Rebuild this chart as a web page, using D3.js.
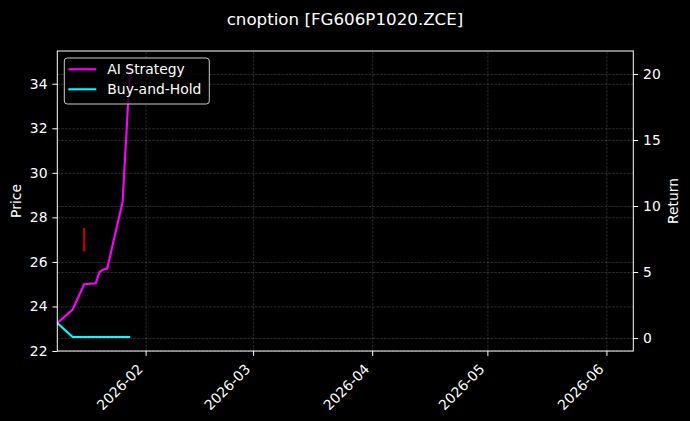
<!DOCTYPE html>
<html>
<head>
  <meta charset="utf-8">
  <style type="text/css">
  body {
    margin: 0;
    background: #000;
  }
  svg text {
    font-family: "DejaVu Sans", sans-serif;
    fill: #fff;
  }
  .axis text {
    font-size: 13.9px;
  }
  .axis path, .axis line {
    stroke: #fff;
    stroke-width: 1px;
  }
  .grid path {
    display: none;
  }
  .grid line {
    stroke: #b0b0b0;
    stroke-opacity: 0.35;
    stroke-width: 0.7px;
    stroke-dasharray: 2.6px 1.2px;
  }
  .grid text {
    display: none;
  }
  </style>
</head>
<body>
  <script src="https://d3js.org/d3.v7.min.js"></script>
  <script>
    var parseDate = d3.timeParse("%Y-%m-%d");

    // AI strategy cumulative return
    var strategyDates = ["2026-01-09", "2026-01-13", "2026-01-16", "2026-01-19", "2026-01-20",
                         "2026-01-21", "2026-01-22", "2026-01-26", "2026-01-28"];
    var strategyValues = [1.14, 2.16, 4.07, 4.15, 5.0, 5.2, 5.26, 10.3, 20.7];

    // buy-and-hold cumulative return
    var holdDates = ["2026-01-09", "2026-01-13", "2026-01-28"];
    var holdValues = [1.14, 0.08, 0.08];

    // price marker (red)
    var priceDates = ["2026-01-16", "2026-01-16"];
    var priceValues = [26.47, 27.52];

    var monthTicks = ["2026-02-01", "2026-03-01", "2026-04-01", "2026-05-01", "2026-06-01"];
    var priceTicks = [22, 24, 26, 28, 30, 32, 34];
    var returnTicks = [0, 5, 10, 15, 20];

    var margin = {left: 57.3, right: 633.3, top: 51, bottom: 351};
    var width = margin.right - margin.left, height = margin.bottom - margin.top;

    var x = d3.scaleTime()
        .domain([parseDate("2026-01-09"), parseDate("2026-06-08")])
        .range([0, width]);
    var yPrice = d3.scaleLinear()
        .domain([22, 35.47])
        .range([height, 0]);
    var yRet = d3.scaleLinear()
        .domain([-0.98, 21.74])
        .range([height, 0]);

    var svg = d3.select("body").append("svg")
        .attr("width", 690)
        .attr("height", 421)
        .style("background", "#000");

    svg.append("text")
        .attr("x", 345)
        .attr("y", 25)
        .attr("text-anchor", "middle")
        .style("font-size", "16.7px")
        .text("cnoption [FG606P1020.ZCE]");

    var g = svg.append("g")
        .attr("transform", "translate(" + margin.left + "," + margin.top + ")");

    // grids
    g.append("g")
        .attr("class", "grid")
        .attr("transform", "translate(0," + height + ")")
        .call(d3.axisBottom(x).tickValues(monthTicks.map(parseDate)).tickSize(-height));
    g.append("g")
        .attr("class", "grid")
        .call(d3.axisLeft(yPrice).tickValues(priceTicks).tickSize(-width));
    g.append("g")
        .attr("class", "grid")
        .call(d3.axisLeft(yRet).tickValues(returnTicks).tickSize(-width));

    // price marker
    var priceLine = d3.line()
        .x(function(d) { return x(d.date); })
        .y(function(d) { return yPrice(d.value); });
    var priceData = priceDates.map(function(d, i) { return {date: parseDate(d), value: priceValues[i]}; });
    g.append("path")
        .datum(priceData)
        .attr("d", priceLine)
        .attr("fill", "none")
        .attr("stroke", "#d40000")
        .attr("stroke-width", 2);

    var retLine = d3.line()
        .x(function(d) { return x(d.date); })
        .y(function(d) { return yRet(d.value); });
    var strategyData = strategyDates.map(function(d, i) { return {date: parseDate(d), value: strategyValues[i]}; });
    var holdData = holdDates.map(function(d, i) { return {date: parseDate(d), value: holdValues[i]}; });

    g.append("path")
        .datum(strategyData)
        .attr("d", retLine)
        .attr("fill", "none")
        .attr("stroke", "#ff00ff")
        .attr("stroke-width", 2.1);
    g.append("path")
        .datum(holdData)
        .attr("d", retLine)
        .attr("fill", "none")
        .attr("stroke", "#00ffff")
        .attr("stroke-width", 2.1);

    // axes
    var xAxis = g.append("g")
        .attr("class", "axis")
        .attr("transform", "translate(0," + height + ")")
        .call(d3.axisBottom(x)
          .tickValues(monthTicks.map(parseDate))
          .tickFormat(d3.timeFormat("%Y-%m"))
          .tickSize(4.9)
          .tickPadding(4.9));
    xAxis.selectAll("text")
        .attr("text-anchor", "end")
        .attr("y", 0)
        .attr("dy", 0)
        .attr("transform", "translate(-2.3,19) rotate(-45)");

    g.append("g")
        .attr("class", "axis")
        .call(d3.axisLeft(yPrice).tickValues(priceTicks).tickSize(4.9).tickPadding(4.9));
    g.append("g")
        .attr("class", "axis")
        .attr("transform", "translate(" + width + ",0)")
        .call(d3.axisRight(yRet).tickValues(returnTicks).tickSize(4.9).tickPadding(4.9));

    // spines
    g.selectAll(".axis path").remove();
    g.append("rect")
        .attr("width", width)
        .attr("height", height)
        .attr("fill", "none")
        .attr("stroke", "#fff")
        .attr("stroke-width", 1);

    // axis titles
    svg.append("text")
        .attr("transform", "translate(21," + (margin.top + height / 2) + ") rotate(-90)")
        .attr("text-anchor", "middle")
        .style("font-size", "13.9px")
        .text("Price");
    svg.append("text")
        .attr("transform", "translate(678," + (margin.top + height / 2) + ") rotate(-90)")
        .attr("text-anchor", "middle")
        .style("font-size", "13.9px")
        .text("Return");

    // legend
    var legendItems = [
      {name: "AI Strategy", color: "#ff00ff"},
      {name: "Buy-and-Hold", color: "#00ffff"}
    ];
    var legend = g.append("g")
        .attr("transform", "translate(7,7)");
    legend.append("rect")
        .attr("width", 145)
        .attr("height", 46)
        .attr("rx", 3)
        .attr("fill", "#000")
        .attr("fill-opacity", 0.8)
        .attr("stroke", "#ccc")
        .attr("stroke-width", 1);
    var item = legend.selectAll(".item")
        .data(legendItems)
      .enter()
        .append("g")
        .attr("transform", function(d, i) { return "translate(0," + (11.3 + i * 20) + ")"; });
    item.append("line")
        .attr("x1", 4).attr("x2", 32)
        .attr("stroke", function(d) { return d.color; })
        .attr("stroke-width", 2.1);
    item.append("text")
        .attr("x", 43)
        .attr("dy", "0.36em")
        .style("font-size", "13.9px")
        .text(function(d) { return d.name; });
  </script>
</body>
</html>
